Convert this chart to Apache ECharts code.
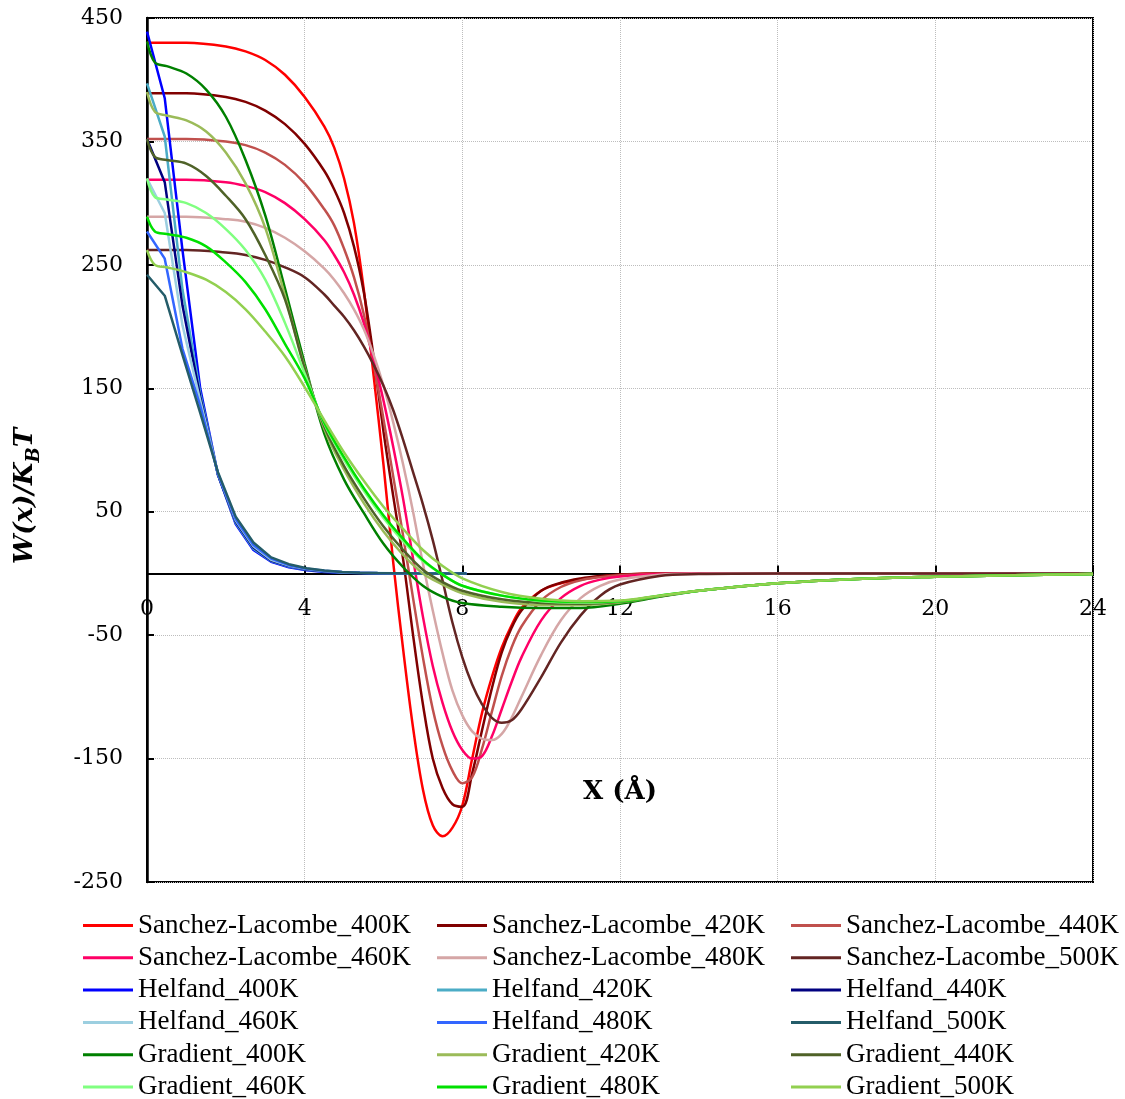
<!DOCTYPE html>
<html><head><meta charset="utf-8">
<script src="https://cdn.jsdelivr.net/npm/echarts/dist/echarts.min.js"></script>
<style>html,body{margin:0;padding:0;background:#fff;overflow:hidden}#c{width:1125px;height:1099px}</style>
</head><body><div id="c"></div>
<script>
// ---- data ----
const X_SL = [0,1,2,2.5,3,3.5,4,4.5,4.75,5,5.25,5.5,5.75,6,6.25,6.5,6.75,7,7.25,7.5,7.75,8,8.25,8.5,8.75,9,9.25,9.5,10,10.5,11,11.5,12,13,14,16,20,24];
const SL400 = [430,430,427,423,416,404,386,362,345,320,284,230,160,88,8,-62,-125,-175,-204,-213,-206,-188,-150,-113,-84,-60,-42,-28,-14,-8,-5,-2.5,-1,0,0,0,0,0];
const SL420 = [389,389,386,382,375,364,348,326,311,292,265,228,175,115,62,11,-50,-106,-150,-174,-187,-189,-162,-127,-93,-64,-44,-30,-14,-7.5,-4,-2,-1,0,0,0,0,0];
const SL440 = [352,352,350,347,341,331,316,295,282,263,240,210,170,125,78,30,-20,-68,-110,-140,-160,-170,-165,-142,-112,-83,-60,-43,-22,-11,-5.5,-3,-1.5,-0.3,0,0,0,0];
const SL460 = [319,319,317,314,309,300,287,270,258,244,226,203,173,140,102,60,12,-35,-75,-105,-128,-143,-150,-148,-132,-110,-88,-68,-38,-20,-10,-5,-2.5,-0.5,0,0,0,0];
const SL480 = [289,289,287,285,280,272,261,247,238,227,214,198,177,152,122,88,50,8,-30,-65,-95,-115,-128,-134,-135,-130,-117,-100,-66,-38,-20,-10,-5,-1,-0.2,0,0,0];
const SL500 = [262,262,260,258,254,248,240,226,217,208,197,184,169,152,132,108,82,56,27,-6,-40,-68,-90,-106,-117,-121,-119,-110,-84,-56,-34,-18,-9,-2,-0.5,0,0,0];

const X_H = [0,0.45,0.9,1.35,1.8,2.25,2.7,3.15,3.6,4.05,4.5,4.95,5.4,5.85,6.3,6.75,7.2,7.65,8.1];
const H400 = [439,385,262,150,80,40,19,9.5,5,2.5,1.2,0.6,0.3,0.1,0,0,0,0,0];
const H420 = [397,354,230,146,80,41,20,10,5.5,3,1.5,0.8,0.4,0.2,0.1,0,0,0,0];
const H440 = [352,317,217,143,80,42,21,10.5,6,3.2,1.7,0.9,0.5,0.2,0.1,0,0,0,0];
const H460 = [320,292,201,140,81,43,22,11,6.3,3.5,1.9,1,0.5,0.3,0.1,0,0,0,0];
const H480 = [277,255,182,136,81,44,23,12,6.7,3.8,2.1,1.1,0.6,0.3,0.1,0.05,0,0,0];
const H500 = [242,225,177,130,82,46,25,13,7.5,4.2,2.3,1.2,0.6,0.3,0.15,0.05,0,0,0];

const X_G = [0,0.2,0.5,1,1.5,2,2.5,3,3.5,4,4.5,5,5.5,6,6.5,7,7.5,8,9,10,11,12,13,14,16,18,20,22,24];
const G400 = [431,414,411,405,392,370,335,290,231,170,113,76,49,24,5,-10,-19,-24,-27,-28,-28,-24.5,-19,-14,-8,-4.5,-2.7,-1.5,-0.5];
const G420 = [390,374,371,367,358,341,316,280,225,167,117,84,57,34,15,0,-9,-16,-23,-25.5,-25.5,-23.5,-18.5,-14,-8,-4.5,-2.7,-1.5,-0.5];
const G440 = [352,337.5,335,332,322,306,287,258,222,166,119,87,61,38,19,3,-7,-14,-21,-24,-24.5,-23,-18.5,-14,-8,-4.5,-2.7,-1.5,-0.5];
const G460 = [320,305,303,300,292,279,262,238,203,162,121,92,67,45,26,10,-1,-10,-18,-22.5,-23.5,-22.5,-18,-14,-8,-4.5,-2.7,-1.5,-0.5];
const G480 = [289,277,275,272,265,252,236,214,186,158,122,94,69,47,28,11,-1,-10,-18,-22,-23,-22.5,-18,-14,-8,-4.5,-2.7,-1.5,-0.5];
const G500 = [262,250,248,244,238,228,214,196,176,151,124,98,75,54,36,19,6,-4,-15,-20.5,-22.5,-22,-18,-14,-8,-4.5,-2.7,-1.5,-0.5];

const Y_TICKS = [-250,-150,-50,50,150,250,350,450];
const X_TICKS = [0,4,8,12,16,20,24];

// ---- series definitions ----
const SERIES = [
  ['Sanchez-Lacombe_400K', X_SL, SL400, '#FF0000', true],
  ['Sanchez-Lacombe_420K', X_SL, SL420, '#800000', true],
  ['Sanchez-Lacombe_440K', X_SL, SL440, '#C0504D', true],
  ['Sanchez-Lacombe_460K', X_SL, SL460, '#FF0066', true],
  ['Sanchez-Lacombe_480K', X_SL, SL480, '#D5A6A6', true],
  ['Sanchez-Lacombe_500K', X_SL, SL500, '#632523', true],
  ['Helfand_400K', X_H, H400, '#0000FF', false],
  ['Helfand_420K', X_H, H420, '#4BACC6', false],
  ['Helfand_440K', X_H, H440, '#000080', false],
  ['Helfand_460K', X_H, H460, '#9CCFE0', false],
  ['Helfand_480K', X_H, H480, '#3366FF', false],
  ['Helfand_500K', X_H, H500, '#245C69', false],
  ['Gradient_400K', X_G, G400, '#008000', true],
  ['Gradient_420K', X_G, G420, '#9BBB59', true],
  ['Gradient_440K', X_G, G440, '#4F6228', true],
  ['Gradient_460K', X_G, G460, '#80FF80', true],
  ['Gradient_480K', X_G, G480, '#00E000', true],
  ['Gradient_500K', X_G, G500, '#92D050', true]
];
const LEGEND_COLS = [
  ['Sanchez-Lacombe_400K','Sanchez-Lacombe_460K','Helfand_400K','Helfand_460K','Gradient_400K','Gradient_460K'],
  ['Sanchez-Lacombe_420K','Sanchez-Lacombe_480K','Helfand_420K','Helfand_480K','Gradient_420K','Gradient_480K'],
  ['Sanchez-Lacombe_440K','Sanchez-Lacombe_500K','Helfand_440K','Helfand_500K','Gradient_440K','Gradient_500K']
];

const chart = echarts.init(document.getElementById('c'), null, {renderer: 'canvas', width: 1125, height: 1099});
const serif = "'DejaVu Serif', 'Liberation Serif', serif";

const GRID = {left: 147, right: 32, top: 18, bottom: 217};
const plotH = 1099 - GRID.top - GRID.bottom;
const yMin = Y_TICKS[0], yMax = Y_TICKS[Y_TICKS.length - 1];
const zeroOffset = -(0 - yMin) / (yMax - yMin) * plotH;

const option = {
  animation: false,
  backgroundColor: '#fff',
  textStyle: {fontFamily: serif, color: '#000'},
  grid: Object.assign({show: true, borderColor: '#000', borderWidth: 2, containLabel: false, outerBoundsMode: 'none'}, GRID),
  xAxis: {
    type: 'value', min: X_TICKS[0], max: X_TICKS[X_TICKS.length - 1], interval: X_TICKS[1] - X_TICKS[0],
    offset: zeroOffset,
    axisLine: {onZero: false, lineStyle: {color: '#000', width: 2}},
    axisTick: {inside: true, length: 8, lineStyle: {color: '#000', width: 2}},
    axisLabel: {color: '#000', fontFamily: serif, fontSize: 22, margin: 25},
    splitLine: {show: true, lineStyle: {color: '#bdbdbd', type: 'dotted', width: 1}},
    name: 'X (Å)', nameLocation: 'middle', nameGap: 206,
    nameTextStyle: {fontFamily: serif, fontWeight: 'bold', fontSize: 26, color: '#000'}
  },
  yAxis: {
    type: 'value', min: yMin, max: yMax, interval: Y_TICKS[1] - Y_TICKS[0],
    axisLine: {show: true, onZero: false, lineStyle: {color: '#000', width: 2.5}},
    axisTick: {show: true, inside: true, length: 7, lineStyle: {color: '#000', width: 2}},
    axisLabel: {color: '#000', fontFamily: serif, fontSize: 22, margin: 24},
    splitLine: {show: true, lineStyle: {color: '#bdbdbd', type: 'dotted', width: 1}},
    name: '{a|W(x)/K}{b|B}{a|T}', nameLocation: 'middle', nameRotate: 90, nameGap: 104,
    nameTextStyle: {
      color: '#000',
      padding: [0, 92, 0, 0],
      rich: {
        a: {fontFamily: serif, fontWeight: 'bold', fontStyle: 'italic', fontSize: 26, lineHeight: 36, verticalAlign: 'middle', color: '#000'},
        b: {fontFamily: serif, fontWeight: 'bold', fontStyle: 'italic', fontSize: 18, lineHeight: 18, verticalAlign: 'bottom', color: '#000'}
      }
    }
  },
  legend: LEGEND_COLS.map((names, i) => ({
    orient: 'vertical', left: 83 + i * 354, top: 912, height: 200, padding: 0,
    itemWidth: 50, itemHeight: 3, itemGap: 5.3, icon: 'rect', selectedMode: false,
    textStyle: {fontFamily: "'Liberation Serif', serif", fontSize: 27, lineHeight: 27, color: '#000'},
    data: names
  })),
  series: SERIES.map(([name, xs, ys, color, smooth]) => ({
    name, type: 'line', showSymbol: false, symbol: 'none',
    smooth: smooth ? 0.35 : false,
    data: xs.map((x, i) => [x, ys[i]]),
    lineStyle: {color, width: 2.5},
    itemStyle: {color},
    emphasis: {disabled: true}
  }))
};
chart.setOption(option);
</script>
</body></html>
